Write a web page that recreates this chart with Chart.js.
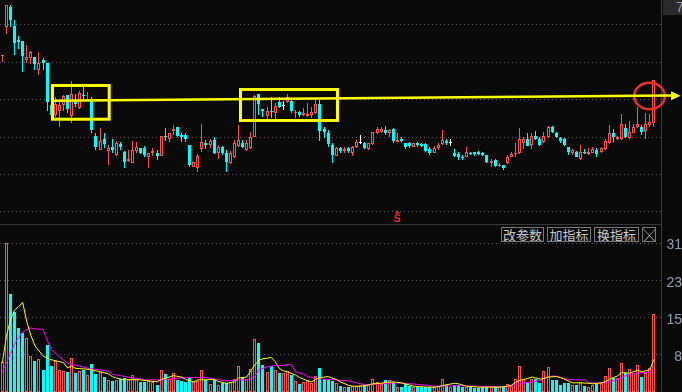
<!DOCTYPE html>
<html>
<head>
<meta charset="utf-8">
<title>K线图</title>
<script src="https://cdn.jsdelivr.net/npm/chart.js@4.4.1/dist/chart.umd.min.js"></script>
<style>
html,body{margin:0;padding:0;background:#0a0a0a;overflow:hidden;}
#wrap{position:relative;width:682px;height:392px;overflow:hidden;background:#0a0a0a;}
#c1{position:absolute;left:0;top:0;}
#c2{position:absolute;left:0;top:225px;}
#hsep{position:absolute;left:0;top:224px;width:661px;height:1px;background:#383838;}
#vsep{position:absolute;left:661px;top:0;width:1px;height:392px;background:#3c3c3c;}
.btn{position:absolute;top:227px;height:13px;border:1px solid #7a7a7a;color:#c8c8c8;background:#0c0c0c;font-family:"Noto Sans CJK SC",sans-serif;font-size:13px;line-height:13px;text-align:center;overflow:hidden;white-space:nowrap;}
#pbox{position:absolute;left:663px;top:0;width:19px;height:15px;background:#2a2a2a;overflow:hidden;}
#pbox span{position:absolute;left:13px;top:0;font-family:"Liberation Sans",sans-serif;font-size:14px;line-height:15px;color:#8fa0b8;}
</style>
</head>
<body>
<div id="wrap">
<div id="vsep"></div>
<div id="hsep"></div>
<canvas id="c1" width="682" height="224"></canvas>
<canvas id="c2" width="682" height="167"></canvas>
<div id="pbox"><span>7</span></div>
<div class="btn" style="left:501px;width:41px;">改参数</div>
<div class="btn" style="left:547px;width:42px;">加指标</div>
<div class="btn" style="left:594px;width:43px;">换指标</div>
<div class="btn" style="left:642px;width:12px;">╳</div>
</div>
<script>
// ---------------- data ----------------
const open = [
6.69,6.98,7.18,6.99,6.85,6.84,6.65,6.67,6.68,6.55,
6.65,6.62,6.20,6.10,6.14,6.20,6.30,6.09,6.23,6.17,
6.30,6.24,6.26,5.89,5.75,5.86,5.74,5.78,5.70,5.81,
5.73,5.64,5.62,5.74,5.77,5.77,5.68,5.72,5.72,5.69,
5.89,5.86,5.94,5.98,5.90,5.90,5.80,5.58,5.57,5.76,
5.82,5.80,5.85,5.72,5.78,5.72,5.62,5.68,5.79,5.82,
5.75,5.77,5.88,6.31,6.16,6.09,6.14,6.12,6.23,6.19,
6.23,6.24,6.12,6.13,6.10,6.09,6.10,6.12,6.21,5.96,
5.92,5.80,5.69,5.77,5.74,5.77,5.72,5.78,5.82,5.82,
5.76,5.81,5.92,5.93,5.95,5.92,5.96,5.83,5.86,5.82,
5.82,5.78,5.82,5.81,5.81,5.76,5.72,5.77,5.81,5.84,
5.82,5.72,5.71,5.68,5.68,5.72,5.73,5.73,5.72,5.70,
5.62,5.65,5.59,5.60,5.62,5.68,5.71,5.72,5.82,5.86,
5.80,5.89,5.86,5.83,5.88,5.98,5.92,5.87,5.86,5.78,
5.72,5.73,5.66,5.73,5.71,5.72,5.75,5.73,5.76,5.82,
5.92,5.86,5.86,5.97,5.87,5.92,5.98,5.98,5.94,6.00,
6.02];
const close = [
6.70,7.20,7.05,6.82,6.83,6.69,6.68,6.73,6.61,6.62,
6.62,6.23,6.10,6.21,6.20,6.29,6.16,6.31,6.21,6.32,
6.29,6.26,5.95,5.78,5.84,5.81,5.77,5.75,5.82,5.78,
5.63,5.66,5.75,5.78,5.72,5.70,5.72,5.74,5.69,5.89,
5.88,5.92,5.96,5.89,5.88,5.86,5.60,5.63,5.69,5.83,
5.80,5.84,5.72,5.78,5.72,5.63,5.72,5.82,5.85,5.78,
5.82,5.88,6.29,6.21,6.14,6.14,6.13,6.19,6.18,6.19,
6.28,6.14,6.13,6.10,6.12,6.11,6.13,6.21,5.94,5.93,
5.81,5.70,5.77,5.74,5.76,5.74,5.78,5.83,5.82,5.77,
5.82,5.93,5.96,5.96,5.92,5.95,5.84,5.85,5.84,5.78,
5.79,5.82,5.80,5.79,5.74,5.72,5.77,5.80,5.85,5.82,
5.82,5.69,5.68,5.67,5.73,5.71,5.71,5.71,5.70,5.63,
5.64,5.59,5.60,5.57,5.68,5.71,5.72,5.86,5.86,5.79,
5.89,5.86,5.80,5.89,5.98,5.93,5.88,5.84,5.80,5.73,
5.75,5.68,5.73,5.72,5.73,5.76,5.71,5.77,5.84,5.92,
5.88,5.88,6.01,5.88,5.93,5.98,6.01,5.93,6.01,6.03,
6.45];
const high = [
6.70,7.20,7.20,7.05,6.89,6.84,6.80,6.74,6.68,6.73,
6.67,6.62,6.20,6.28,6.23,6.30,6.30,6.44,6.31,6.34,
6.38,6.33,6.28,5.92,5.97,5.92,5.80,5.86,5.84,5.83,
5.74,5.75,5.84,5.83,5.77,5.79,5.72,5.77,5.75,5.89,
5.97,5.92,6.00,5.98,5.92,5.92,5.80,5.63,5.71,6.01,
5.85,5.86,5.88,5.80,5.79,5.75,5.74,5.85,6.00,5.85,
5.85,5.93,6.30,6.31,6.16,6.18,6.28,6.22,6.28,6.24,
6.31,6.27,6.15,6.14,6.17,6.22,6.18,6.26,6.25,5.98,
5.95,5.82,5.78,5.78,5.78,5.78,5.79,5.85,5.90,5.83,
5.82,5.93,5.98,5.98,5.99,5.96,5.97,5.92,5.88,5.82,
5.83,5.82,5.83,5.82,5.82,5.78,5.79,5.82,5.95,5.86,
5.86,5.76,5.73,5.70,5.78,5.73,5.73,5.74,5.73,5.70,
5.66,5.66,5.62,5.60,5.70,5.73,5.82,5.97,5.88,5.92,
5.92,5.94,5.88,5.93,5.99,5.99,5.93,5.88,5.87,5.78,
5.76,5.74,5.80,5.76,5.77,5.78,5.77,5.78,5.86,6.00,
5.96,5.89,6.11,6.01,6.04,6.01,6.18,6.00,6.12,6.11,
6.45];
const low = [
6.63,6.91,6.98,6.70,6.76,6.53,6.62,6.61,6.55,6.50,
6.55,6.14,6.10,6.08,5.98,6.14,6.12,6.02,6.18,6.16,
6.24,6.24,5.92,5.75,5.75,5.77,5.60,5.72,5.69,5.75,
5.57,5.63,5.62,5.72,5.71,5.68,5.57,5.69,5.65,5.69,
5.84,5.83,5.90,5.88,5.83,5.83,5.58,5.58,5.53,5.73,
5.76,5.77,5.71,5.66,5.70,5.53,5.61,5.67,5.78,5.77,
5.74,5.76,5.88,6.10,6.08,6.06,6.07,6.06,6.17,6.15,
6.22,6.12,6.07,6.08,6.09,6.08,6.07,6.11,5.84,5.87,
5.78,5.62,5.69,5.72,5.72,5.72,5.69,5.77,5.81,5.76,
5.75,5.80,5.91,5.92,5.90,5.88,5.82,5.83,5.83,5.76,
5.77,5.78,5.78,5.78,5.73,5.70,5.72,5.75,5.80,5.80,
5.79,5.68,5.65,5.65,5.68,5.70,5.69,5.70,5.69,5.62,
5.58,5.58,5.58,5.55,5.61,5.68,5.68,5.71,5.76,5.79,
5.76,5.85,5.79,5.82,5.87,5.92,5.87,5.82,5.79,5.70,
5.70,5.68,5.65,5.71,5.70,5.72,5.68,5.72,5.75,5.81,
5.83,5.85,5.85,5.87,5.86,5.92,5.97,5.90,5.86,5.98,
5.98];
const volume = [
6.2,30.9,20.3,16.7,13.2,12.2,11.3,7.5,6.4,6.8,
4.6,9.8,5.4,6.5,4.6,4.4,4.2,7.1,4.0,4.4,
4.6,3.5,5.8,3.7,4.2,3.2,2.5,2.3,2.5,2.8,
3.0,2.5,3.5,2.7,2.1,2.1,2.3,2.1,1.5,4.6,
3.7,2.8,3.9,2.5,2.3,2.1,3.2,2.1,2.3,4.6,
2.5,1.7,2.5,1.5,1.9,1.9,2.1,2.8,5.4,3.1,
2.6,4.7,10.9,10.2,5.6,4.2,5.4,4.6,3.9,3.9,
4.4,3.5,2.3,1.7,2.1,2.5,1.8,3.3,4.9,2.6,
2.6,2.3,1.8,1.2,1.0,1.1,1.2,1.2,1.5,1.5,
1.5,2.7,2.1,1.7,2.5,2.5,2.1,1.0,1.0,1.7,
1.2,1.0,1.0,1.0,1.0,1.0,1.0,1.2,2.6,1.5,
1.0,1.5,1.5,1.0,1.0,1.0,0.8,0.8,1.0,1.0,
1.2,1.0,1.0,1.0,1.7,1.2,2.6,5.4,2.8,1.9,
2.6,2.8,1.9,4.4,5.1,2.5,2.5,1.5,1.9,1.9,
1.5,1.5,2.1,1.2,1.0,1.5,1.7,1.9,3.3,4.9,
3.0,2.9,6.0,4.0,4.7,4.0,5.5,3.2,4.0,4.9,
16.2];
// volume moving averages: [day index, value]
const ma5Vol = [[0,6.0],[1,11.5],[2,15.0],[3,17.0],[4,17.7],[5,18.6],[6,14.6],[7,11.8],[8,9.6],[10,7.5],[11,7.0],[12,6.7],[14,6.3],[15,6.1],[16,5.0],[17,5.4],[18,4.9],[20,4.8],[22,4.6],[24,4.2],[26,3.8],[27,3.2],[28,2.9],[30,2.5],[31,2.6],[34,2.5],[36,2.3],[38,2.1],[39,2.6],[40,2.8],[42,3.4],[44,3.1],[45,2.6],[47,2.1],[48,2.5],[52,2.6],[53,2.2],[55,1.8],[57,2.1],[58,2.9],[60,3.1],[61,4.4],[62,5.6],[63,6.6],[64,6.9],[65,7.0],[66,7.2],[67,6.3],[68,4.9],[69,4.4],[70,4.2],[72,3.5],[73,3.0],[75,2.3],[76,2.1],[77,2.7],[79,3.1],[80,3.2],[82,2.6],[83,2.1],[85,1.4],[86,1.2],[88,1.2],[89,1.3],[91,1.7],[93,1.8],[94,2.0],[96,2.1],[98,1.9],[99,1.7],[101,1.2],[103,1.1],[104,1.0],[106,1.0],[107,1.1],[109,1.5],[111,1.8],[112,1.7],[114,1.2],[117,1.0],[122,1.0],[124,1.2],[125,1.4],[126,2.0],[127,2.4],[129,2.8],[130,3.1],[132,2.7],[133,2.8],[134,3.1],[136,3.2],[137,3.0],[139,2.3],[140,1.9],[142,1.9],[144,1.8],[145,1.7],[147,1.9],[148,2.1],[149,2.6],[150,3.0],[151,3.3],[152,4.0],[153,4.0],[154,3.9],[156,4.5],[157,4.2],[159,4.6],[160,6.8]];
const ma10Vol = [[0,4.2],[1,6.0],[2,8.0],[3,10.0],[4,11.3],[5,12.5],[7,13.3],[8,13.1],[10,13.0],[11,10.8],[12,8.9],[14,7.3],[16,6.0],[17,5.7],[19,5.4],[21,4.9],[24,4.6],[26,4.3],[27,3.7],[29,3.4],[30,3.2],[34,2.7],[35,2.5],[39,2.5],[42,2.8],[45,3.0],[50,3.0],[52,2.7],[55,2.3],[58,2.5],[60,2.5],[62,3.2],[63,4.6],[65,5.2],[67,5.5],[69,5.5],[70,5.7],[71,5.6],[72,4.2],[74,3.7],[75,3.2],[77,2.8],[80,2.6],[82,2.5],[85,2.3],[87,1.9],[89,1.5],[93,1.7],[96,1.9],[99,1.8],[103,1.5],[106,1.2],[112,1.3],[116,1.2],[122,1.1],[125,1.2],[127,1.8],[130,2.1],[132,2.4],[134,3.1],[135,3.3],[136,3.3],[138,2.8],[140,2.5],[143,2.5],[144,1.9],[147,1.8],[148,1.9],[150,2.3],[152,3.0],[154,3.7],[157,4.0],[159,4.1],[160,5.3]];
const priceGrid = [7.00, 6.63, 6.26, 5.88, 5.51, 5.14];
const volGrid = [7.7, 15.4, 23.1, 30.8];
const volTickLabels = ['8', '15', '23', '31'];
// hand-drawn marks in data units
const boxes = [[12.33, 26.25, 6.395, 6.058], [58.48, 82.30, 6.355, 6.045]];
const trendLine = [[11.96, 6.243], [164.2, 6.295], [166.5, 6.292]];
const ring = [158.9, 6.29, 3.76, 0.133];
const signal = [97, 5.145, 'S'];

// ---------------- styling ----------------
const RED = '#ff5555', CYAN = '#00ffff', WHITE = '#ffffff', BG = '#0a0a0a';
const GRID = '#575757';
const days = open.map((_, i) => i);
const up = days.map(i => close[i] > open[i]);
const candleColor = days.map(i => close[i] > open[i] ? RED : (close[i] < open[i] ? CYAN : WHITE));
const volColor = days.map(i => close[i] >= open[i] ? RED : CYAN);
const XMIN = -0.565, XMAX = 161.73;

const snap = {
  id: 'snap',
  beforeDatasetsDraw(chart) {
    chart.data.datasets.forEach((ds, di) => {
      const meta = chart.getDatasetMeta(di);
      if (meta.type !== 'bar') return;
      meta.data.forEach(el => {
        el.x = Math.floor(el.x) + 0.5;
        el.y = Math.round(el.y);
        el.base = Math.round(el.base);
      });
    });
  }
};

const notes = {
  id: 'notes',
  afterDatasetsDraw(chart) {
    const {ctx, scales: {x, y}} = chart;
    const px = v => x.getPixelForValue(v), py = v => y.getPixelForValue(v);
    ctx.save();
    ctx.strokeStyle = '#ffff00';
    ctx.lineWidth = 3;
    boxes.forEach(b => {
      ctx.strokeRect(px(b[0]), py(b[2]), px(b[1]) - px(b[0]), py(b[3]) - py(b[2]));
    });
    ctx.beginPath();
    ctx.ellipse(px(ring[0]), py(ring[1]), px(ring[0] + ring[2]) - px(ring[0]), py(ring[1] - ring[3]) - py(ring[1]), 0, 0, Math.PI * 2);
    ctx.strokeStyle = '#e8332e';
    ctx.lineWidth = 2.5;
    ctx.stroke();
    const [a, b, t] = trendLine;
    ctx.beginPath();
    ctx.moveTo(px(a[0]), py(a[1]));
    ctx.lineTo(px(b[0]), py(b[1]));
    ctx.strokeStyle = '#ffff00';
    ctx.lineWidth = 2.5;
    ctx.stroke();
    const tx = px(t[0]), ty = py(t[1]), bx = px(b[0]);
    ctx.beginPath();
    ctx.moveTo(tx, ty);
    ctx.lineTo(bx, ty - 4.5);
    ctx.lineTo(bx, ty + 4.5);
    ctx.closePath();
    ctx.fillStyle = '#ffff00';
    ctx.fill();
    // signal marker
    const sx = px(signal[0]), sy = py(signal[1]);
    ctx.fillStyle = '#ff2a2a';
    ctx.beginPath();
    ctx.moveTo(sx, sy);
    ctx.lineTo(sx - 2.5, sy + 3);
    ctx.lineTo(sx + 2.5, sy + 3);
    ctx.closePath();
    ctx.fill();
    ctx.font = 'bold 10px "Liberation Sans", sans-serif';
    ctx.textAlign = 'center';
    ctx.textBaseline = 'alphabetic';
    ctx.fillText(signal[2], sx, sy + 11.5);
    ctx.restore();
  }
};

const common = {
  responsive: false,
  animation: false,
  devicePixelRatio: 1,
  events: [],
  layout: {padding: 0},
  plugins: {legend: {display: false}, tooltip: {enabled: false}}
};

new Chart(document.getElementById('c1'), {
  type: 'bar',
  data: {
    datasets: [
      {
        label: 'body',
        data: days.map(i => ({x: i, y: [open[i], close[i]]})),
        backgroundColor: days.map(i => up[i] ? BG : candleColor[i]),
        borderColor: candleColor,
        borderWidth: days.map(i => up[i] ? 1 : 0),
        borderSkipped: false,
        barThickness: 3, maxBarThickness: 3, minBarLength: 1,
        grouped: false, inflateAmount: 0, order: 0
      },
      {
        label: 'wick',
        data: days.map(i => ({x: i, y: [low[i], high[i]]})),
        backgroundColor: candleColor,
        borderWidth: 0,
        barThickness: 1, maxBarThickness: 1,
        grouped: false, inflateAmount: 0, order: 1
      }
    ]
  },
  options: Object.assign({}, common, {
    scales: {
      x: {type: 'linear', display: false, min: XMIN, max: XMAX, offset: false},
      y: {
        position: 'right', min: 5.01, max: 7.25,
        afterBuildTicks: s => { s.ticks = priceGrid.map(v => ({value: v})); },
        afterFit: s => { s.width = 21; s.paddingTop = 0; s.paddingBottom = 0; },
        ticks: {display: false},
        grid: {color: GRID, lineWidth: 1, drawTicks: false},
        border: {display: false, dash: [1, 3]}
      }
    }
  }),
  plugins: [snap, notes]
});

new Chart(document.getElementById('c2'), {
  type: 'bar',
  data: {
    datasets: [
      {
        type: 'line', label: 'MA5',
        data: ma5Vol.map(p => ({x: p[0], y: p[1]})),
        borderColor: '#ffff00', borderWidth: 1, pointRadius: 0, tension: 0, order: 0
      },
      {
        type: 'line', label: 'MA10',
        data: ma10Vol.map(p => ({x: p[0], y: p[1]})),
        borderColor: '#ff00ff', borderWidth: 1, pointRadius: 0, tension: 0, order: 1
      },
      {
        type: 'bar', label: 'VOL',
        data: days.map(i => ({x: i, y: volume[i]})),
        backgroundColor: days.map(i => volColor[i] === RED ? BG : CYAN),
        borderColor: volColor,
        borderWidth: days.map(i => volColor[i] === RED ? 1 : 0),
        borderSkipped: false,
        barThickness: 3, maxBarThickness: 3,
        grouped: false, inflateAmount: 0, order: 2
      }
    ]
  },
  options: Object.assign({}, common, {
    scales: {
      x: {type: 'linear', display: false, min: XMIN, max: XMAX, offset: false},
      y: {
        position: 'right', min: 0, max: 34.65,
        afterBuildTicks: s => { s.ticks = volGrid.map(v => ({value: v})); },
        afterFit: s => { s.width = 21; s.paddingTop = 0; s.paddingBottom = 0; },
        ticks: {
          padding: 10, autoSkip: false, crossAlign: 'far', labelOffset: 2,
          color: '#8fa0b8',
          font: {family: '"Liberation Sans", sans-serif', size: 14},
          callback: (v, i) => volTickLabels[i]
        },
        grid: {color: GRID, lineWidth: 1, drawTicks: false},
        border: {display: false, dash: [1, 3]}
      }
    }
  }),
  plugins: [snap]
});
</script>
</body>
</html>
